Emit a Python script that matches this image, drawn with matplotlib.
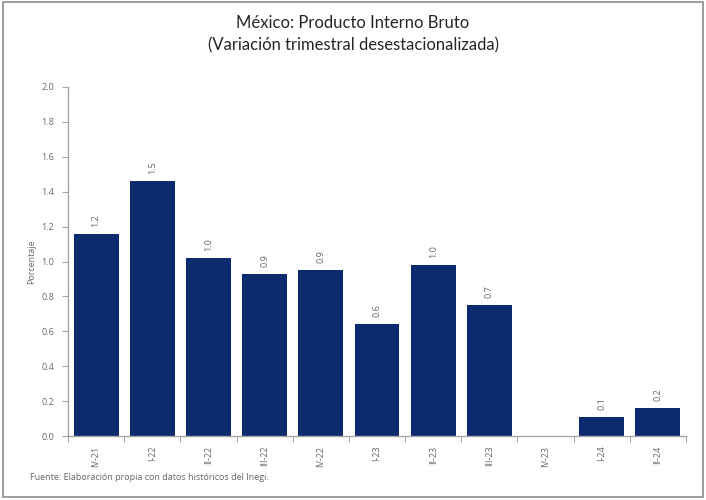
import numpy as np
import matplotlib
matplotlib.use("Agg")
import matplotlib.pyplot as plt
from matplotlib.patches import Rectangle

plt.rcParams['font.family'] = ['Open Sans', 'DejaVu Sans']

# datos
trimestres = ["IV-21", "I-22", "II-22", "III-22", "IV-22", "I-23",
              "II-23", "III-23", "IV-23", "I-24", "II-24"]
variacion = [1.16, 1.46, 1.02, 0.93, 0.95, 0.64, 0.98, 0.75, 0.0, 0.11, 0.16]
etiquetas = ["1.2", "1.5", "1.0", "0.9", "0.9", "0.6", "1.0", "0.7", "", "0.1", "0.2"]

azul = "#0b2a6f"
gris = "#666666"

fig = plt.figure(figsize=(7.06, 5.0), dpi=100)
ax = fig.add_axes([68 / 706, 64 / 500, 618 / 706, 349 / 500])

x = np.arange(len(trimestres))
ax.bar(x, variacion, width=0.8, color=azul, zorder=2)

for xi, v, t in zip(x, variacion, etiquetas):
    if t:
        ax.text(xi, v + 0.04, t, rotation=90, ha="center", va="bottom",
                fontsize=6.5, color=gris)

ax.set_xlim(-0.5, len(trimestres) - 0.5)
ax.set_ylim(0, 2.0)
ax.set_yticks(np.arange(0, 2.01, 0.2))
ax.set_yticklabels([f"{v:.1f}" for v in np.arange(0, 2.01, 0.2)],
                   fontsize=6.5, color=gris)

# marcas del eje x entre categorías
ax.set_xticks(np.arange(-0.5, len(trimestres), 1.0))
ax.set_xticklabels([])
ax.set_xticks(x, minor=True)
ax.set_xticklabels(trimestres, minor=True, rotation=90, fontsize=6.5, color=gris)
ax.tick_params(axis="x", which="minor", length=0, pad=7)
ax.tick_params(axis="x", which="major", length=4, color="#a6a6a6", direction="out")
ax.tick_params(axis="y", length=4, color="#a6a6a6", direction="out", pad=6)

for s in ["top", "right"]:
    ax.spines[s].set_visible(False)
for s in ["left", "bottom"]:
    ax.spines[s].set_color("#a6a6a6")
    ax.spines[s].set_linewidth(1.0)

ax.set_ylabel("Porcentaje", fontsize=6.5, color=gris, labelpad=4)

fig.text(0.5, 0.955, "México: Producto Interno Bruto", ha="center", va="center",
         fontsize=12, color="#262626", family=["Lato", "DejaVu Sans"])
fig.text(0.5, 0.91, "(Variación trimestral desestacionalizada)", ha="center",
         va="center", fontsize=12, color="#262626", family=["Lato", "DejaVu Sans"])
fig.text(30 / 706, 1 - 478 / 500, "Fuente: Elaboración propia con datos históricos del Inegi.",
         ha="left", va="center", fontsize=6.5, color=gris)

# marco del gráfico
fig.patches.append(Rectangle((0.004, 0.006), 0.992, 0.99, transform=fig.transFigure,
                             fill=False, edgecolor="#8c8c8c", linewidth=1.2))

fig.savefig("out.png", dpi=100)
